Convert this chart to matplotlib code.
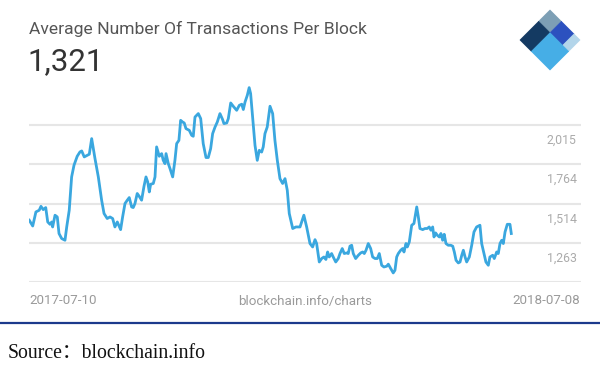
"""Average number of transactions per block, blockchain.info style card."""

import numpy as np
import matplotlib

matplotlib.use("Agg")
import matplotlib.pyplot as plt
from matplotlib.patches import Polygon

# days since 2017-07-10
days = [
    0, 2.6, 5.0, 7.5, 8.8, 10.5, 12.4, 13.9, 15.6, 16.9, 17.6, 19.4, 21.1, 22.4,
    24.4, 26.9, 28.2, 30.1, 31.9, 33.7, 36.1, 38.2, 39.5, 41.4, 43.7, 45.2, 47.0,
    49.5, 52.0, 54.5, 56.3, 58.7, 60.8, 62.8, 64.5, 66.3, 68.8, 70.3, 72.1, 73.8,
    75.3, 77.1, 78.3, 79.6, 81.3, 82.8, 84.6, 86.4, 87.9, 89.2, 90.4, 91.4, 93.4,
    94.7, 95.9, 97.9, 99.7, 100.9, 102.2, 103.0, 104.7, 106.0, 108.0, 109.7,
    111.0, 112.7, 114.0, 115.5, 116.7, 118.0, 120.5, 122.3, 123.5, 124.8, 127.3,
    129.1, 131.0, 133.1, 134.8, 136.6, 138.1, 139.9, 141.6, 143.6, 145.6, 146.6,
    148.7, 149.9, 151.7, 153.6, 156.2, 158.2, 160.0, 161.2, 162.5, 164.2, 165.6,
    166.7, 168.2, 170.0, 171.7, 173.2, 175.0, 176.2, 177.5, 179.2, 181.3, 183.3,
    185.0, 186.8, 188.8, 190.8, 192.6, 194.3, 195.8, 198.4, 200.8, 203.9, 206.8,
    208.9, 211.4, 213.4, 215.2, 216.4, 218.4, 220.2, 221.9, 223.4, 224.7, 225.9,
    227.7, 228.9, 230.8, 232.7, 234.0, 235.7, 237.2, 239.0, 240.2, 241.5, 242.8,
    244.0, 245.8, 247.8, 249.6, 251.1, 252.3, 253.6, 255.3, 257.1, 258.6, 260.4,
    262.1, 263.6, 265.4, 267.1, 269.2, 270.4, 272.2, 274.1, 275.4, 276.7, 277.9,
    279.7, 281.2, 282.2, 283.7, 284.7, 286.2, 288.0, 289.7, 291.8, 293.0, 294.2,
    296.3, 298.0, 299.7, 301.2, 302.5, 303.8, 304.8, 306.0, 307.3, 308.8, 310.0,
    311.3, 312.5, 313.8, 315.5, 317.4, 318.9, 320.1, 321.4, 323.1, 324.4, 325.7,
    326.9, 328.2, 329.4, 331.4, 333.2, 334.9, 336.9, 339.4, 340.7, 342.4, 343.9,
    345.7, 346.9, 349.0, 350.2, 352.0, 353.2, 354.5, 355.8, 357.0, 358.3, 360.0,
    362.0, 363.0,
]
tx_per_block = [
    1407, 1370, 1460, 1471, 1496, 1475, 1488, 1396, 1381, 1396, 1364, 1439, 1428,
    1322, 1290, 1279, 1364, 1471, 1684, 1759, 1816, 1844, 1850, 1812, 1822, 1829,
    1929, 1801, 1684, 1535, 1450, 1418, 1428, 1418, 1364, 1396, 1347, 1428, 1514,
    1535, 1552, 1492, 1488, 1514, 1578, 1560, 1535, 1624, 1684, 1652, 1588, 1637,
    1642, 1684, 1876, 1816, 1833, 1790, 1769, 1833, 1769, 1737, 1684, 1790, 1897,
    1918, 2046, 2035, 2029, 1993, 1982, 1950, 1944, 2067, 2089, 2057, 1897, 1808,
    1808, 1865, 1961, 2003, 2035, 2089, 2051, 2025, 2029, 2057, 2157, 2136, 2110,
    2142, 2149, 2115, 2163, 2206, 2255, 2217, 2067, 1886, 1790, 1854, 1843, 1876,
    1961, 2003, 2136, 2089, 1918, 1790, 1673, 1642, 1673, 1599, 1450, 1354, 1364,
    1364, 1439, 1364, 1258, 1236, 1283, 1258, 1140, 1162, 1172, 1156, 1204, 1172,
    1194, 1172, 1140, 1162, 1194, 1226, 1194, 1198, 1194, 1241, 1247, 1194, 1162,
    1183, 1198, 1204, 1194, 1215, 1258, 1226, 1172, 1162, 1162, 1194, 1119, 1108,
    1113, 1126, 1098, 1070, 1087, 1172, 1194, 1215, 1226, 1204, 1258, 1236, 1268,
    1375, 1386, 1492, 1428, 1354, 1347, 1354, 1354, 1364, 1343, 1364, 1300, 1326,
    1311, 1300, 1322, 1279, 1317, 1258, 1247, 1247, 1241, 1204, 1151, 1134, 1140,
    1183, 1215, 1172, 1140, 1172, 1247, 1332, 1364, 1375, 1258, 1194, 1140, 1119,
    1172, 1183, 1162, 1204, 1194, 1258, 1279, 1258, 1332, 1381, 1381, 1322,
]
grid_values = [1012, 1263, 1514, 1764, 2015]
grid_labels = ["", "1,263", "1,514", "1,764", "2,015"]
start_label = "2017-07-10"
end_label = "2018-07-08"
latest = "1,321"

W, H = 600, 367
fig = plt.figure(figsize=(W / 100, H / 100), dpi=100)


def px(x, y):
    # pixel coords (top-left origin) -> figure fraction
    return x / W, 1 - y / H


# chart area: x 29..581 px, y 82..282 px
ax = fig.add_axes([29 / W, 1 - 282 / H, 552 / W, 200 / H])
ax.plot(days, tx_per_block, color="#3aa7df", lw=2.0, solid_joinstyle="round")
ax.set_xlim(-0.2, 415.5)
ax.set_ylim(1012, 2291)
ax.set_yticks(grid_values)
ax.set_xticks([])
ax.tick_params(left=False, labelleft=False)
ax.grid(axis="y", color="#e6e6e6", lw=1.5)
ax.set_axisbelow(True)
for s in ax.spines.values():
    s.set_visible(False)
for v, lab in zip(grid_values, grid_labels):
    if lab:
        ax.annotate(lab, xy=(1, v), xycoords=("axes fraction", "data"),
                    xytext=(-3, -11), textcoords="offset points",
                    ha="right", va="center", fontsize=8.8, color="#ababab",
                    family="Roboto")

# header
fig.text(*px(29, 29), "Average Number Of Transactions Per Block", fontsize=12.6,
         color="#555555", family="Roboto", va="center")
fig.text(*px(27, 62), latest, fontsize=22.5, color="#333333", family="Roboto",
         va="center")

# logo: diamond split into cells (a along top->right, b along top->left)
top, half = np.array([550.0, 10.0]), 30.0


def cell(a0, a1, b0, b1):
    pts = []
    for a, b in [(a0, b0), (a1, b0), (a1, b1), (a0, b1)]:
        x = top[0] + half * (a - b)
        y = top[1] + half * (a + b)
        pts.append(px(x, y))
    return pts


for (a0, a1, b0, b1), c in [
    ((0, 0.38, 0, 0.38), "#7d9fb5"),
    ((0, 0.38, 0.38, 1), "#143a62"),
    ((0.38, 0.8, 0, 0.38), "#2c51bf"),
    ((0.8, 1, 0, 0.38), "#b3d5ea"),
    ((0.38, 1, 0.38, 1), "#46aee6"),
]:
    fig.patches.append(Polygon(cell(a0, a1, b0, b1), closed=True, fc=c, ec=c,
                               lw=0.5, joinstyle="round",
                               transform=fig.transFigure))

# footer
fig.text(*px(29, 301), start_label, fontsize=9.6, color="#9a9a9a",
         family="Roboto", va="center")
fig.text(*px(305, 301), "blockchain.info/charts", fontsize=9.6, color="#9a9a9a",
         family="Roboto", va="center", ha="center")
fig.text(*px(580, 301), end_label, fontsize=9.6, color="#9a9a9a",
         family="Roboto", va="center", ha="right")

fig.add_artist(plt.Line2D([0, 1], [1 - 323 / H] * 2, color="#1c3a8c", lw=1.6,
                          transform=fig.transFigure))
fig.text(*px(8, 354), "Source：blockchain.info", fontsize=14.2, color="#111111",
         family=["Liberation Serif", "Noto Sans CJK SC"], va="center")

fig.savefig("out.png", dpi=100)
